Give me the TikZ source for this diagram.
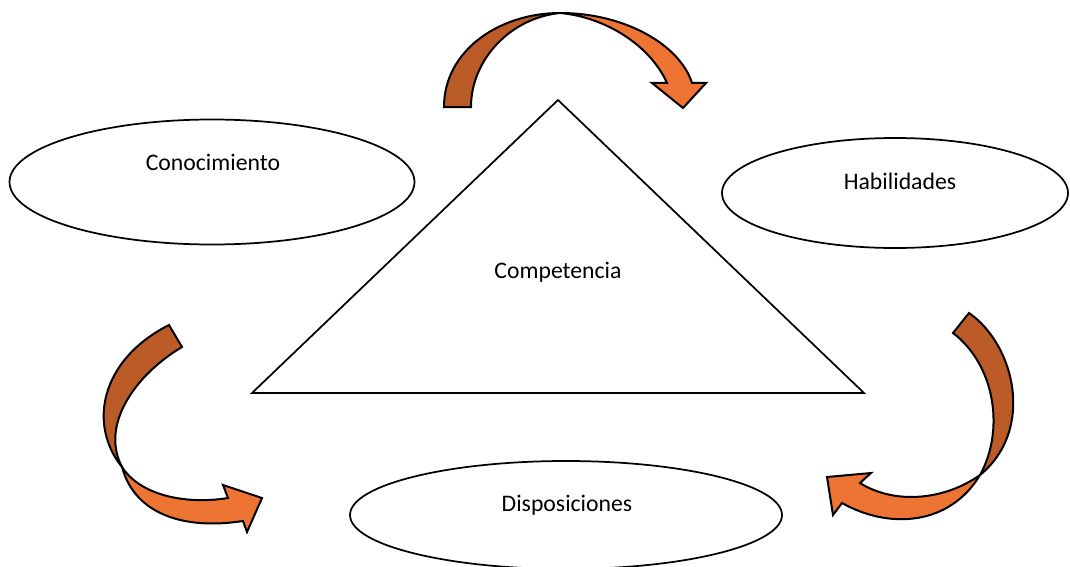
\documentclass[tikz,border=0pt]{standalone}
\usepackage{fontspec}
\setmainfont{Carlito}
\usetikzlibrary{shapes.geometric}
\definecolor{arrdark}{HTML}{BA5B28}
\definecolor{arrlight}{HTML}{ED7433}

\begin{document}
\begin{tikzpicture}[
  x=0.75pt, y=-0.75pt,
  oval/.style={draw, ellipse, line width=1.3pt, inner sep=0pt},
  lbl/.style={font=\fontsize{17.8}{21}\selectfont, inner sep=1pt},
  back/.style={draw, fill=arrdark, line width=1.5pt, line join=miter},
  front/.style={draw, fill=arrlight, line width=1.5pt, line join=miter},
]
\useasboundingbox (0,0) rectangle (1070,567);
\clip (0,0) rectangle (1070,567);

% ---------------- triangle ------------------------------------------
\coordinate (apex) at (558,100);
\coordinate (bl) at (252,393);
\coordinate (br) at (864,393);
\draw[line width=1.3pt] (apex) -- (br) -- (bl) -- cycle;
\node[lbl] (comp) at (558,272) {Competencia};

% ---------------- three ovals ---------------------------------------
\node[oval, minimum width=303.75pt, minimum height=93.75pt] (cono) at (212,182) {};
\node[oval, minimum width=259.5pt, minimum height=82.5pt] (habi) at (895,193) {};
\node[oval, minimum width=324pt, minimum height=81pt] (disp) at (566,515) {};

\node[lbl] (conotxt) at (213,162) {Conocimiento};
\node[lbl] (habitxt) at (900,181) {Habilidades};
\node[lbl] (disptxt) at (567,505) {Disposiciones};

% ---------------- curved arrows -------------------------------------
% top
\draw[back] (444,107) .. controls (444,50) and (500,13) .. (560,13)
  .. controls (510,18) and (471,60) .. (471,107) -- cycle;
\draw[front] (560,13) .. controls (625,13) and (680,45) .. (692,83)
  -- (706,83) -- (683,108) -- (652,83) -- (667,83)
  .. controls (650,45) and (605,17) .. (560,13) -- cycle;

% left
\draw[back] (169,325) -- (182,347) .. controls (135,375) and (100,425) .. (122,467)
  .. controls (88,425) and (100,360) .. (169,325) -- cycle;
\draw[front] (122,467) .. controls (140,495) and (185,505) .. (228,498)
  -- (223,485) -- (262,498) -- (247,532) -- (243,521)
  .. controls (185,530) and (135,515) .. (122,467) -- cycle;

% right
\draw[back] (953,333) -- (969,313) .. controls (1015,345) and (1035,430) .. (980,475)
  .. controls (1005,430) and (995,365) .. (953,333) -- cycle;
\draw[front] (980,475) .. controls (950,525) and (890,530) .. (842,503)
  -- (833,515) -- (827,477) -- (871,473) -- (860,483)
  .. controls (895,505) and (945,500) .. (980,475) -- cycle;

\end{tikzpicture}
\end{document}
